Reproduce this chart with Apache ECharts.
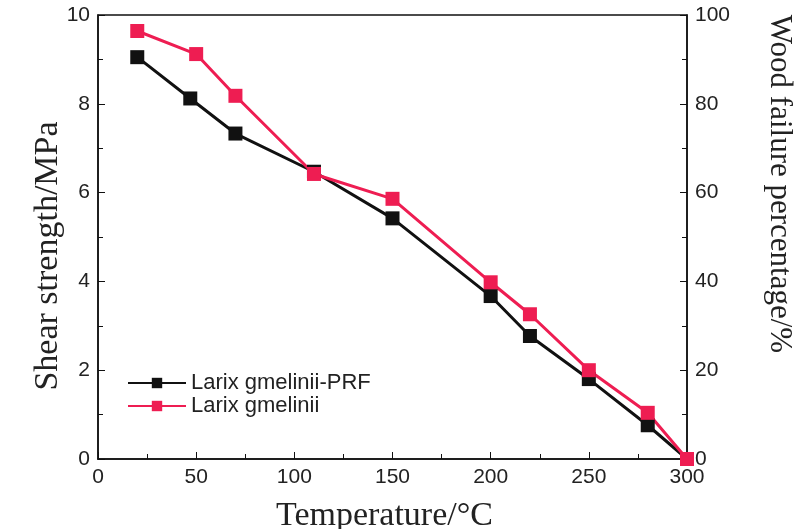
<!DOCTYPE html>
<html>
<head>
<meta charset="utf-8">
<script src="https://cdn.jsdelivr.net/npm/echarts@6/dist/echarts.min.js"></script>
<style>
html,body{margin:0;padding:0;background:#fff;}
#chart{width:808px;height:529px;}
</style>
</head>
<body>
<div id="chart"></div>
<script>
// temperature (°C) for each series
var tempPRF = [20, 47, 70, 110, 150, 200, 220, 250, 280, 300];
var tempLG = [20, 50, 70, 110, 150, 200, 220, 250, 280, 300];
// shear strength, MPa (left axis)
var shearPRF = [9.05, 8.12, 7.33, 6.47, 5.42, 3.67, 2.77, 1.80, 0.76, 0];
// wood failure percentage, % (right axis)
var failureLG = [96.4, 91.2, 81.8, 64.2, 58.6, 39.8, 32.6, 20.0, 10.4, 0];

function pairs(xs, ys) {
	var out = [];
	for (var i = 0; i < xs.length; i++) out.push([xs[i], ys[i]]);
	return out;
}

var labelFont = {color: '#222', fontSize: 21, fontFamily: 'Liberation Sans, Arial', margin: 8};
var serif = 'Liberation Serif, Times New Roman';

var myChart = echarts.init(document.getElementById('chart'));
myChart.setOption({
	backgroundColor: '#fff',
	animation: false,
	grid: {
		left: 98, right: 121, top: 15, bottom: 70, containLabel: false, outerBoundsMode: 'none',
		show: true, borderColor: '#111', borderWidth: 1.5
	},
	legend: {
		left: 122, top: 367, orient: 'vertical', itemGap: 1,
		itemWidth: 58, itemHeight: 13,
		textStyle: {color: '#222', fontSize: 22, fontFamily: 'Liberation Sans, Arial'},
		data: ['Larix gmelinii-PRF', 'Larix gmelinii']
	},
	xAxis: {
		type: 'value', min: 0, max: 300, interval: 50,
		name: 'Temperature/°C', nameLocation: 'middle', nameGap: 40,
		nameTextStyle: {color: '#222', fontSize: 34, fontFamily: serif, padding: [0, 16, 0, 0]},
		axisLine: {lineStyle: {color: '#111', width: 1.5}},
		axisTick: {inside: true, length: 7, lineStyle: {color: '#111'}},
		minorTick: {show: true, splitNumber: 2, length: 5, lineStyle: {color: '#111'}},
		axisLabel: labelFont,
		splitLine: {show: false}
	},
	yAxis: [{
		type: 'value', min: 0, max: 10, interval: 2,
		name: 'Shear strength/MPa', nameLocation: 'middle', nameGap: 33, nameMoveOverlap: false,
		nameTextStyle: {color: '#222', fontSize: 34, fontFamily: serif, padding: [0, 38, 0, 0]},
		axisLine: {show: true, lineStyle: {color: '#111', width: 1.5}},
		axisTick: {show: true, inside: true, length: 7, lineStyle: {color: '#111'}},
		minorTick: {show: true, splitNumber: 2, length: 5, lineStyle: {color: '#111'}},
		axisLabel: labelFont,
		splitLine: {show: false}
	}, {
		type: 'value', min: 0, max: 100, interval: 20,
		name: 'Wood failure percentage/%', nameLocation: 'middle', nameGap: 77, nameRotate: -90,
		nameTextStyle: {color: '#222', fontSize: 31, fontFamily: serif, padding: [0, 106, 0, 0]},
		axisLine: {show: true, lineStyle: {color: '#111', width: 1.5}},
		axisTick: {show: true, inside: true, length: 7, lineStyle: {color: '#111'}},
		minorTick: {show: true, splitNumber: 2, length: 5, lineStyle: {color: '#111'}},
		axisLabel: labelFont,
		splitLine: {show: false}
	}],
	series: [{
		name: 'Larix gmelinii-PRF', type: 'line', yAxisIndex: 0,
		data: pairs(tempPRF, shearPRF),
		symbol: 'rect', symbolSize: 14,
		itemStyle: {color: '#111'},
		lineStyle: {color: '#111', width: 3}
	}, {
		name: 'Larix gmelinii', type: 'line', yAxisIndex: 1,
		data: pairs(tempLG, failureLG),
		symbol: 'rect', symbolSize: 14,
		itemStyle: {color: '#ee1d52'},
		lineStyle: {color: '#ee1d52', width: 3}
	}]
}, true);
</script>
</body>
</html>
